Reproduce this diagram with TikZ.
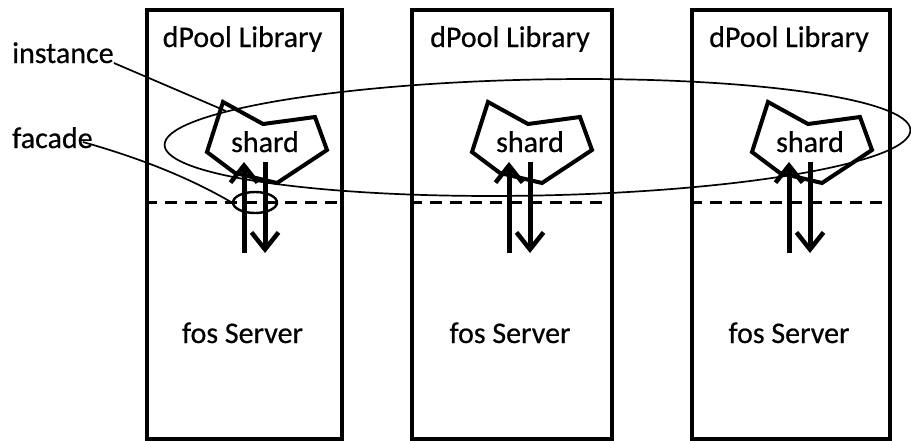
\documentclass[tikz,border=0pt]{standalone}
\usepackage{fontspec}
\setmainfont{Carlito}[FakeBold=0.5]
\usetikzlibrary{arrows.meta,shapes.geometric}
\begin{document}
\begin{tikzpicture}[x=1pt,y=-1pt,
  libbox/.style={draw,line width=3.8pt,inner sep=0pt,anchor=north west},
  lbl/.style={font=\fontsize{30}{36}\selectfont,inner sep=0pt,anchor=base},
  shardline/.style={line width=4pt,line join=miter},
  flow/.style={line width=5pt,-{Straight Barb[length=17pt,width=27pt,line width=4.5pt]}},
  layer/.style={line width=3.2pt,dash pattern=on 12pt off 8pt},
  thinline/.style={line width=1.7pt},
]
\useasboundingbox (0,0) rectangle (911,440);

% three process columns: library on top, server below
\foreach \i/\x/\w in {1/145/195,2/410/200,3/690/198}{
  \node[libbox,minimum width=\w pt,minimum height=429pt] (col\i) at (\x,8) {};
  \node[lbl] (lib\i) at (\x+\w/2,47) {dPool Library};
  \node[lbl] (srv\i) at (\x+\w/2,343) {fos Server};
  % boundary between library and server
  \coordinate (dl\i) at (\x,202.5);
  \coordinate (dr\i) at (\x+\w,202.5);
  \draw[layer] (dl\i) -- (dr\i);
  % shard outline
  \draw[shardline] (\x+78,102) -- (\x+118,124) -- (\x+170,117) -- (\x+182,150)
     -- (\x+132,183) -- (\x+90,173) -- (\x+62,152) -- cycle;
  \node[lbl] (shard\i) at (\x+120,152) {shard};
  % calls into and out of the shard
  \coordinate (ua\i) at (\x+99,253);
  \coordinate (ub\i) at (\x+99,162);
  \coordinate (da\i) at (\x+120,162);
  \coordinate (db\i) at (\x+120,253);
  \draw[flow] (ua\i) -- (ub\i);
  \draw[flow] (da\i) -- (db\i);
}

% the instance spanning all shards
\node[draw,ellipse,thinline,minimum width=746pt,minimum height=116pt,
      inner sep=0pt,rotate=1.15] (inst) at (537.5,137.5) {};
% the facade of the first shard
\node[draw,ellipse,line width=2.4pt,minimum width=44pt,minimum height=21pt,
      inner sep=0pt] (fac) at (255,202.5) {};

\node[lbl,anchor=base west] (instance) at (12,63) {instance};
\node[lbl,anchor=base west] (facade) at (12,148) {facade};

\draw[thinline] (instance.base east) -- (inst.174);
\draw[thinline] ([shift={(-10,-6)}]facade.base east)
   .. controls (140,158) and (190,178) .. (fac.west);
\end{tikzpicture}
\end{document}
